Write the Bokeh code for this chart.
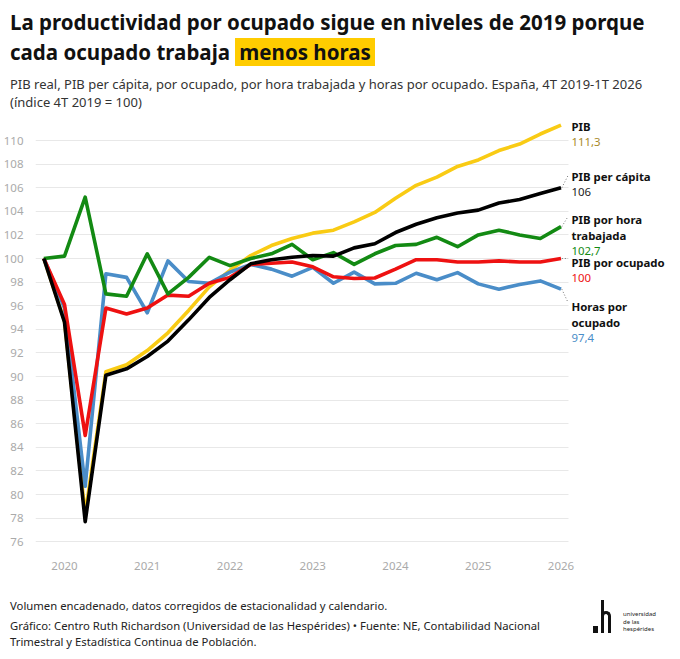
from bokeh.embed import file_html
from bokeh.resources import INLINE
from bokeh.models import Label, FixedTicker, Div
from bokeh.layouts import column
from bokeh.plotting import figure

# quarters from 4T 2019 to 1T 2026
quarters = ["4T 2019",
            "1T 2020", "2T 2020", "3T 2020", "4T 2020",
            "1T 2021", "2T 2021", "3T 2021", "4T 2021",
            "1T 2022", "2T 2022", "3T 2022", "4T 2022",
            "1T 2023", "2T 2023", "3T 2023", "4T 2023",
            "1T 2024", "2T 2024", "3T 2024", "4T 2024",
            "1T 2025", "2T 2025", "3T 2025", "4T 2025",
            "1T 2026"]

pib = [100, 94.7, 78.3, 90.4, 91.0, 92.2, 93.7, 95.6, 97.6, 99.0, 100.25,
       101.1, 101.7, 102.15, 102.4, 103.1, 103.9, 105.1, 106.2, 106.9, 107.8,
       108.35, 109.15, 109.7, 110.55, 111.3]
pib_capita = [100, 94.6, 77.7, 90.1, 90.65, 91.7, 93.0, 94.8, 96.7, 98.2, 99.55,
              99.9, 100.1, 100.25, 100.2, 100.9, 101.25, 102.2, 102.9, 103.45,
              103.85, 104.1, 104.7, 105.0, 105.5, 106.0]
pib_hora = [100, 100.2, 105.2, 97.0, 96.8, 100.4, 97.0, 98.4, 100.1, 99.4, 100.0,
            100.4, 101.2, 99.9, 100.5, 99.5, 100.4, 101.1, 101.2, 101.8, 101.0,
            102.0, 102.4, 102.0, 101.7, 102.7]
pib_ocupado = [100, 96.1, 85.0, 95.8, 95.3, 95.8, 96.9, 96.8, 97.9, 98.4, 99.5,
               99.6, 99.7, 99.3, 98.45, 98.3, 98.35, 99.1, 99.9, 99.9, 99.7,
               99.7, 99.8, 99.7, 99.7, 100.0]
horas_ocupado = [100, 95.8, 80.7, 98.7, 98.4, 95.4, 99.8, 98.05, 97.9, 98.85, 99.5,
                 99.1, 98.5, 99.25, 97.9, 98.85, 97.85, 97.9, 98.75, 98.2, 98.8,
                 97.85, 97.4, 97.8, 98.1, 97.4]

y_ticks = list(range(76, 111, 2))
x_ticks = [2020, 2021, 2022, 2023, 2024, 2025, 2026]

FONT = "Noto Sans"

title_1 = "La productividad por ocupado sigue en niveles de 2019 porque"
title_2 = "cada ocupado trabaja"
title_hl = "menos horas"
subtitle_1 = ("PIB real, PIB per cápita, por ocupado, por hora trabajada y "
              "horas por ocupado. España, 4T 2019-1T 2026")
subtitle_2 = "(índice 4T 2019 = 100)"
note = "Volumen encadenado, datos corregidos de estacionalidad y calendario."
source_1 = ("Gráfico: Centro Ruth Richardson (Universidad de las Hespérides) "
            "• Fuente: NE, Contabilidad Nacional")
source_2 = "Trimestral y Estadística Continua de Población."


def quarter_to_x(q):
    t, year = q.split()
    return int(year) + (int(t[0]) - 1) / 4


x = [quarter_to_x(q) for q in quarters]

# ---- header -------------------------------------------------------------
header = Div(width=680, height=112, margin=0, text=f"""
<div style="font-family:'Noto Sans';color:#111;padding-left:10px;white-space:nowrap">
<div style="font-size:20.5px;font-weight:bold;line-height:30px;margin-top:7px">{title_1}<br>{title_2}
<span style="background:#FFCC00;padding:0 4px">{title_hl}</span></div>
<div style="font-size:13px;line-height:18px;color:#333;margin-top:8px">{subtitle_1}<br>{subtitle_2}</div>
</div>""")

# ---- chart --------------------------------------------------------------
X0, X_GRID_END = 2019.6495, 2026.091
p = figure(width=680, height=480, output_backend="svg", toolbar_location=None,
           x_range=(X0, 2027.444), y_range=(75.0, 112.119),
           min_border_left=35, min_border_right=0,
           min_border_top=3, min_border_bottom=39)
p.outline_line_color = None
p.background_fill_color = "white"
p.border_fill_color = "white"

p.xgrid.grid_line_color = None
p.ygrid.grid_line_color = "#e8e8e8"
p.ygrid.grid_line_width = 1
p.ygrid.cross_bounds = (X0, X_GRID_END)

for ax in (p.xaxis, p.yaxis):
    ax.axis_line_color = None
    ax.major_tick_line_color = None
    ax.minor_tick_line_color = None
    ax.major_label_text_color = "#aaaaaa"
    ax.major_label_text_font = FONT
    ax.major_label_text_font_size = "11.5px"
p.yaxis.ticker = FixedTicker(ticks=y_ticks)
p.yaxis.major_label_standoff = 6
p.xaxis.ticker = FixedTicker(ticks=x_ticks)
p.xaxis.major_label_overrides = {t: str(t) for t in x_ticks}
p.xaxis.major_label_standoff = 2

series = [
    ("PIB", pib, "#F9CB14"),
    ("Horas por ocupado", horas_ocupado, "#4A8DC8"),
    ("PIB por ocupado", pib_ocupado, "#EE1111"),
    ("PIB por hora trabajada", pib_hora, "#138A13"),
    ("PIB per cápita", pib_capita, "#000000"),
]
for name, vals, col in series:
    p.line(x, vals, line_color=col, line_width=3.6, line_join="round")


# frame sits at page x 35.., y 115..553; end labels placed in page pixels
def add_text(rx, ry, text, size, color, bold=False):
    lab = Label(x=rx - 35, y=553 - ry, x_units="screen", y_units="screen",
                text=text, text_font=FONT, text_font_size=size,
                text_color=color, text_baseline="middle", text_align="left",
                text_font_style="bold" if bold else "normal")
    p.add_layout(lab)


def data_y(ry):
    return 110 - (ry - 140) / 11.8


# end labels: (name lines, value text, colour of value, page y of first line)
end_labels = [
    (["PIB"], "111,3", "#A8892A", 126),
    (["PIB per cápita"], "106", "#222222", 176),
    (["PIB por hora", "trabajada"], "102,7", "#138A13", 219),
    (["PIB por ocupado"], "100", "#EE1111", 262),
    (["Horas por", "ocupado"], "97,4", "#4A8DC8", 306),
]
connect = [None, pib_capita, pib_hora, pib_ocupado, horas_ocupado]
conn_target = [None, 175, 216, 258, 302]

for (lines, val, vcol, ry), ser, ty in zip(end_labels, connect, conn_target):
    for k, ln in enumerate(lines):
        add_text(571, ry + k * 15.7, ln, "11.4px", "#111111", bold=True)
    add_text(571, ry + len(lines) * 15.7, val, "11.4px", vcol)
    if ser is not None:
        p.segment(x0=[x[-1] + 0.01], y0=[ser[-1]], x1=[x[-1] + 0.085],
                  y1=[data_y(ty)], line_color="#777777", line_width=1,
                  line_dash="1 2")

# ---- footer -------------------------------------------------------------
footer = Div(width=680, height=67, margin=0, text=f"""
<div style="position:relative;width:680px;height:67px;font-family:'Noto Sans';color:#222">
<div style="position:absolute;left:10px;top:5px;font-size:11.3px;line-height:18px;white-space:nowrap">{note}</div>
<div style="position:absolute;left:10px;top:26px;font-size:11.3px;line-height:16px;white-space:nowrap">{source_1}<br>{source_2}</div>
<div style="position:absolute;left:593px;top:34px;width:5px;height:7px;background:#111"></div>
<div style="position:absolute;left:601px;top:8px;width:3px;height:33px;background:#111"></div>
<div style="position:absolute;left:601px;top:19px;width:10px;height:22px;border:3px solid #111;border-bottom:none;border-radius:8px 8px 0 0"></div>
<div style="position:absolute;left:623px;top:19px;font-size:6px;line-height:7.5px;color:#222">universidad<br>de las<br>hespérides</div>
</div>""")

layout = column(header, p, footer, spacing=0, margin=0)
open("out.html", "w").write(file_html(layout, INLINE))
